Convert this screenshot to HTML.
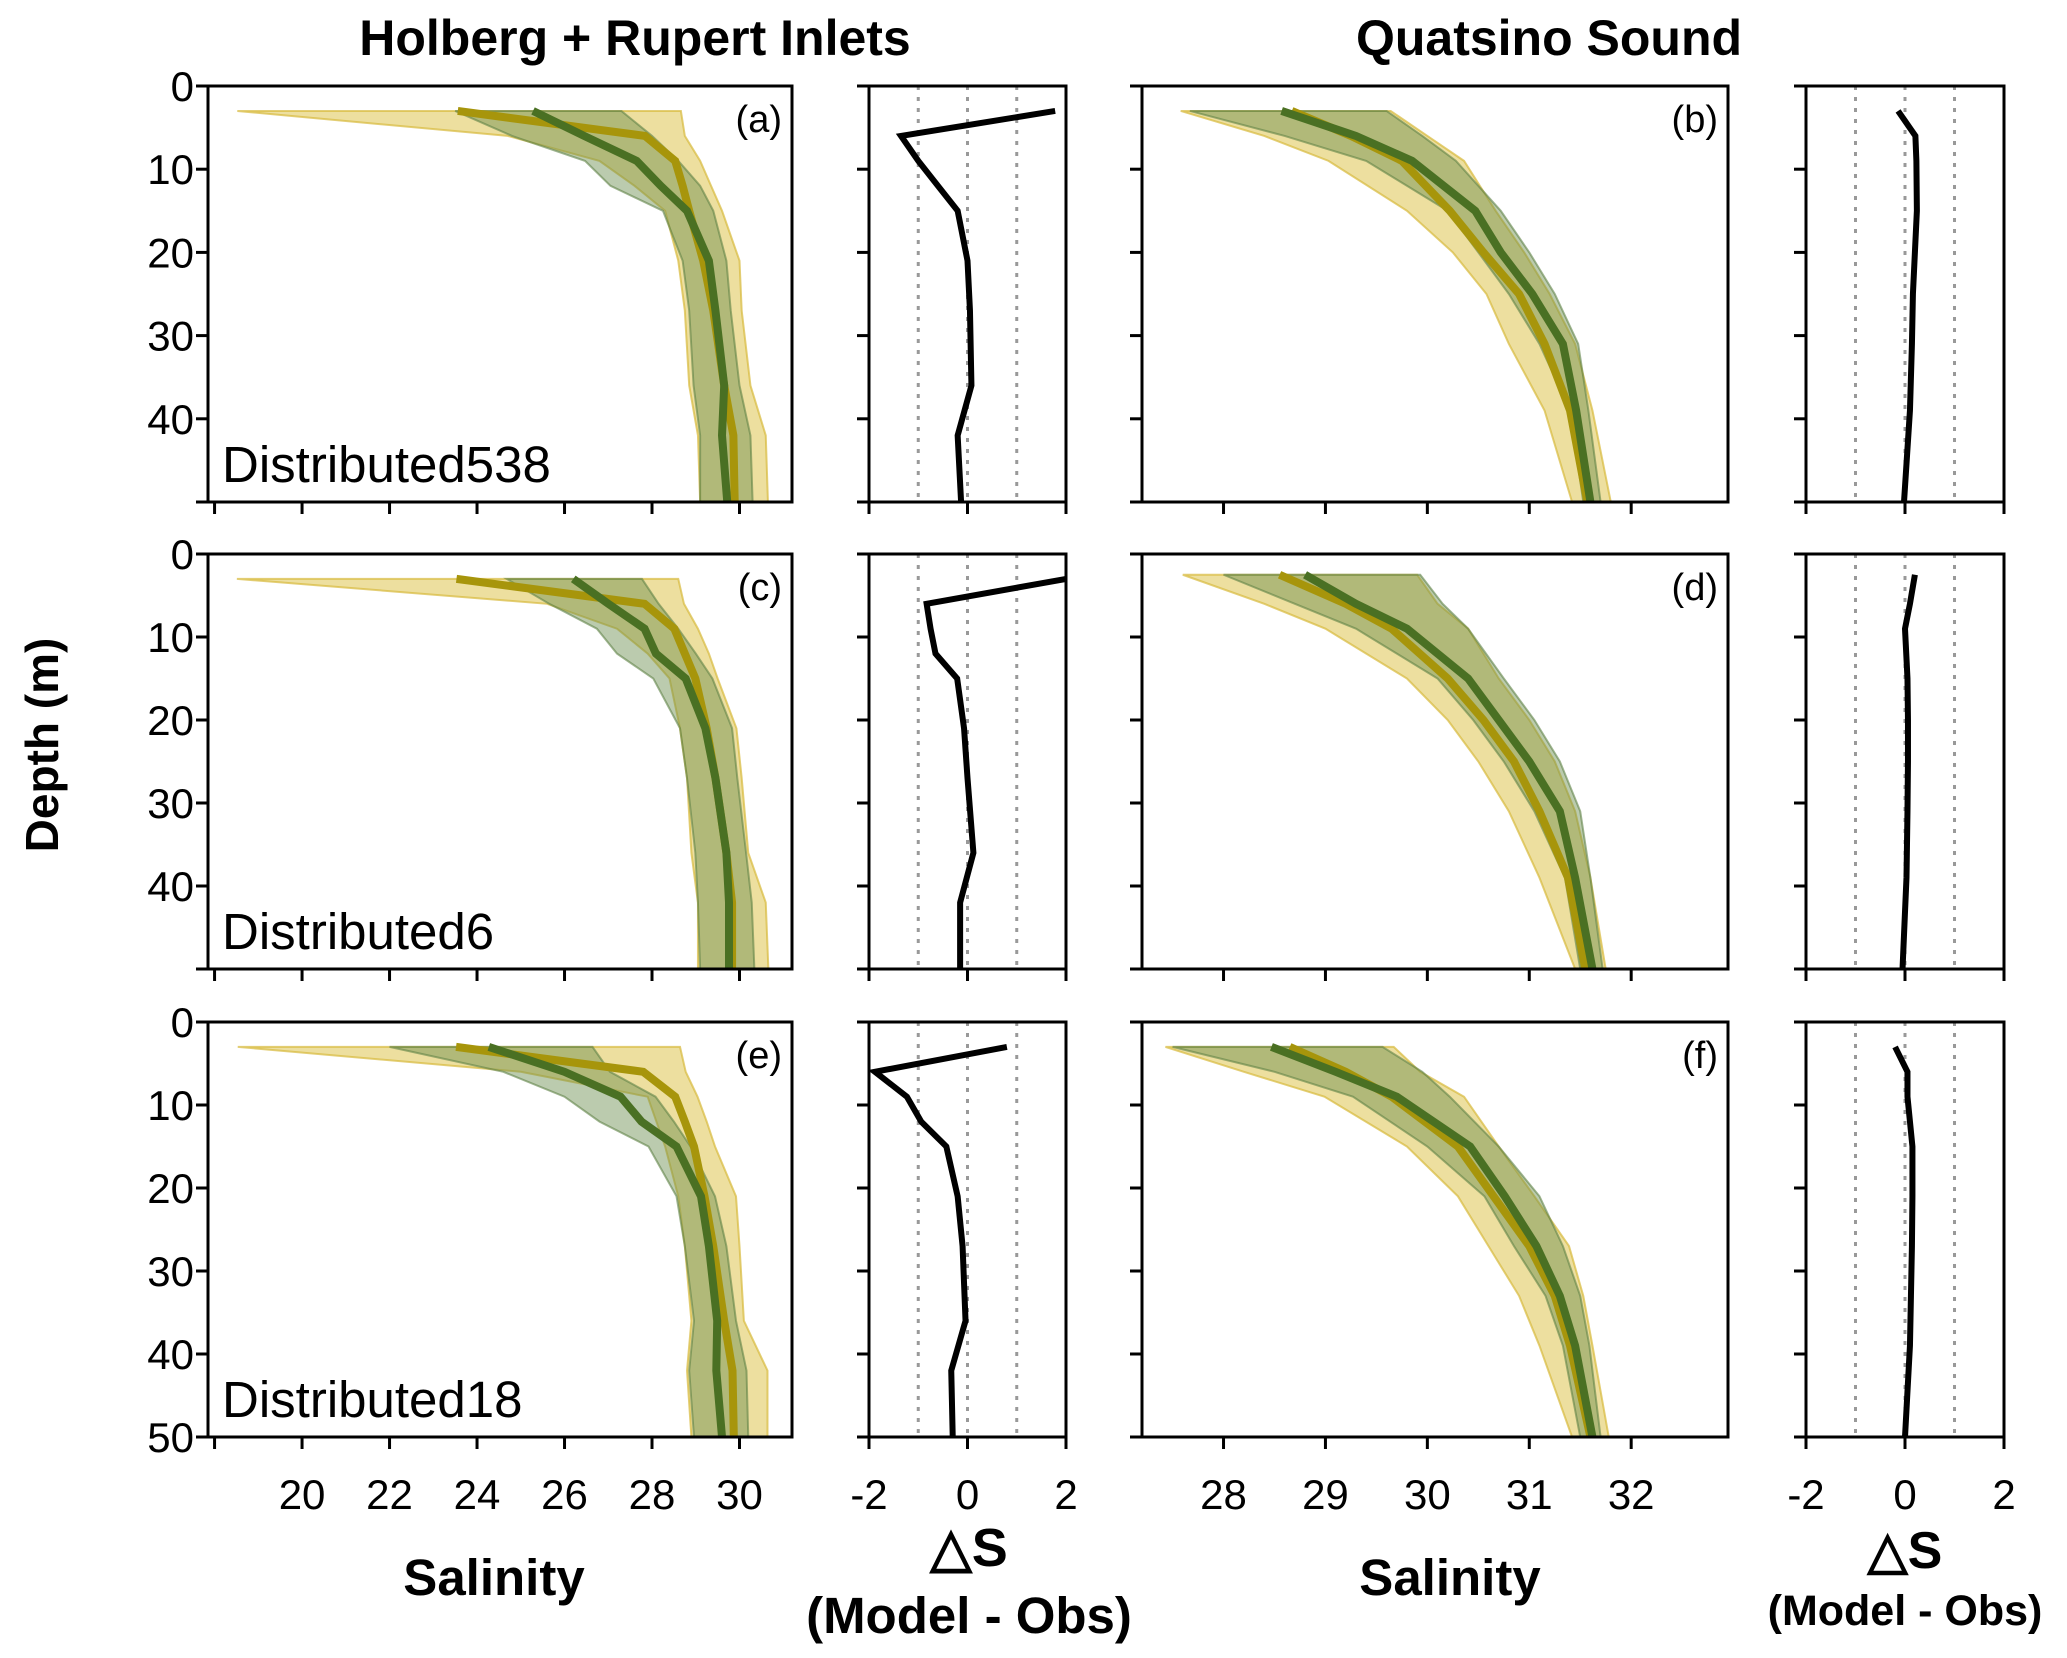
<!DOCTYPE html>
<html><head><meta charset="utf-8">
<style>
html,body{margin:0;padding:0;background:#fff;}
svg{display:block;}
text{font-family:"Liberation Sans Narrow","Liberation Sans",sans-serif;fill:#000;}
.b{font-family:"Liberation Sans",sans-serif;font-weight:bold;}
</style></head>
<body>
<svg id="fig" width="2067" height="1658" viewBox="0 0 2067 1658" xmlns="http://www.w3.org/2000/svg">
<text class="b" x="635" y="55" font-size="50" text-anchor="middle">Holberg + Rupert Inlets</text>
<text class="b" x="1549" y="55" font-size="50" text-anchor="middle">Quatsino Sound</text>
<text class="b" x="0" y="0" font-size="46" text-anchor="middle" transform="translate(58,745) rotate(-90)">Depth (m)</text>
<text class="b" x="494" y="1595" font-size="51" text-anchor="middle">Salinity</text>
<text class="b" x="1450" y="1595" font-size="51" text-anchor="middle">Salinity</text>
<text class="b" x="969" y="1566" font-size="54" text-anchor="middle">△S</text>
<text class="b" x="969" y="1633" font-size="51" text-anchor="middle">(Model - Obs)</text>
<text class="b" x="1905" y="1568" font-size="52" text-anchor="middle">△S</text>
<text class="b" x="1905" y="1625" font-size="43" text-anchor="middle">(Model - Obs)</text>
</svg>
<script>
// ---- data ----
const aDepth=[3,6,9,12,15,21,27,36,42,50];
const aObs=[23.56,27.84,28.53,28.7,28.85,29.17,29.4,29.65,29.86,29.89];
const aMod=[25.28,26.45,27.65,28.2,28.8,29.3,29.45,29.65,29.6,29.72];
const aObsLo=[18.52,24.7,26.8,27.6,28.3,28.6,28.75,28.85,29.05,29.1];
const aObsHi=[28.66,28.75,29.1,29.35,29.6,30.0,30.05,30.25,30.6,30.65];
const aModLo=[23.5,24.8,26.47,27.05,28.25,28.7,28.85,28.95,29.1,29.1];
const aModHi=[27.3,28.0,28.6,29.1,29.4,29.7,29.8,30.0,30.25,30.3];
const aDiff=[1.78,-1.35,-1.0,-0.6,-0.2,0.0,0.05,0.08,-0.2,-0.13];

const cDepth=[3,6,9,12,15,21,27,36,42,50];
const cObs=[23.53,27.83,28.51,28.75,28.99,29.25,29.45,29.7,29.83,29.83];
const cMod=[26.2,27.0,27.83,28.09,28.77,29.22,29.45,29.7,29.76,29.76];
const cObsLo=[18.51,25.6,27.2,27.9,28.4,28.64,28.8,28.9,29.05,29.05];
const cObsHi=[28.6,28.73,29.05,29.3,29.5,29.93,30.05,30.2,30.6,30.66];
const cModLo=[24.68,25.65,26.74,27.2,28.03,28.64,28.8,28.99,29.05,29.1];
const cModHi=[27.77,28.15,28.6,29.0,29.38,29.83,29.95,30.15,30.28,30.34];
const cDiff=[2.0,-0.83,-0.75,-0.65,-0.21,-0.07,0.0,0.12,-0.15,-0.15];

const eDepth=[3,6,9,12,15,21,27,36,42,50];
const eObs=[23.52,27.8,28.53,28.75,28.96,29.2,29.4,29.65,29.84,29.87];
const eMod=[24.27,26.0,27.28,27.76,28.56,29.12,29.3,29.49,29.47,29.6];
const eObsLo=[18.53,25.0,27.9,28.1,28.3,28.6,28.75,28.9,28.8,28.9];
const eObsHi=[28.64,28.77,29.04,29.25,29.44,29.92,30.0,30.1,30.64,30.64];
const eModLo=[22.0,24.6,26.0,26.8,27.92,28.56,28.75,28.96,28.85,28.96];
const eModHi=[26.64,27.04,28.08,28.5,28.88,29.44,29.7,29.92,30.16,30.2];
const eDiff=[0.8,-1.88,-1.23,-0.94,-0.43,-0.2,-0.1,-0.04,-0.33,-0.3];

const bDepth=[3,6,9,15,20,25,31,39,50];
const bObs=[28.67,29.25,29.75,30.22,30.55,30.9,31.15,31.4,31.57];
const bMod=[28.57,29.3,29.85,30.47,30.72,31.03,31.33,31.46,31.6];
const bObsLo=[27.58,28.4,29.03,29.8,30.25,30.58,30.8,31.15,31.42];
const bObsHi=[29.64,30.0,30.36,30.67,30.95,31.2,31.45,31.62,31.8];
const bModLo=[27.67,28.6,29.4,30.2,30.5,30.8,31.1,31.4,31.53];
const bModHi=[29.6,29.95,30.28,30.72,31.0,31.25,31.48,31.58,31.7];
const bDiff=[-0.14,0.21,0.23,0.24,0.2,0.16,0.14,0.1,-0.02];

const dDepth=[2.5,6,9,15,20,25,31,39,50];
const dObs=[28.55,29.2,29.65,30.2,30.55,30.85,31.1,31.38,31.55];
const dMod=[28.8,29.3,29.8,30.4,30.7,31.0,31.3,31.45,31.62];
const dObsLo=[27.6,28.4,29.0,29.8,30.2,30.5,30.8,31.1,31.45];
const dObsHi=[29.9,30.1,30.4,30.7,31.0,31.25,31.45,31.6,31.75];
const dModLo=[28.0,28.7,29.3,30.1,30.45,30.75,31.05,31.35,31.5];
const dModHi=[29.93,30.15,30.4,30.75,31.05,31.3,31.5,31.6,31.72];
const dDiff=[0.2,0.1,0.0,0.05,0.06,0.06,0.05,0.03,-0.05];

const fDepth=[3,6,9,15,21,27,33,39,50];
const fObs=[28.65,29.2,29.65,30.3,30.65,31.0,31.25,31.4,31.6];
const fMod=[28.47,29.1,29.7,30.42,30.76,31.07,31.3,31.45,31.62];
const fObsLo=[27.43,28.2,28.99,29.8,30.3,30.6,30.9,31.1,31.42];
const fObsHi=[29.67,29.93,30.36,30.7,31.05,31.39,31.53,31.62,31.78];
const fModLo=[27.5,28.5,29.27,30.0,30.56,30.85,31.16,31.33,31.5];
const fModHi=[29.56,29.95,30.22,30.7,31.1,31.33,31.5,31.59,31.7];
const fDiff=[-0.2,0.05,0.05,0.15,0.15,0.14,0.12,0.1,0.0];

const leftTicks=[18,20,22,24,26,28,30];
const leftTickLabels=["","20","22","24","26","28","30"];
const rightTicks=[28,29,30,31,32];
const diffTicks=[-2,0,2];
const depthTicks=[0,10,20,30,40,50];

// ---- layout ----
const NS="http://www.w3.org/2000/svg";
const svg=document.getElementById('fig');
const rows=[[86,502],[554,969],[1022,1437]];
const colL=[208,792], colLD=[869,1066], colR=[1142,1728], colRD=[1806,2004];
const domL=[17.85,31.2], domR=[27.2,32.95], domD=[-2,2];

function mk(tag,attrs,parent){const e=document.createElementNS(NS,tag);for(const k in attrs)e.setAttribute(k,attrs[k]);(parent||svg).appendChild(e);return e;}
function xs(col,dom){return v=>col[0]+(v-dom[0])/(dom[1]-dom[0])*(col[1]-col[0]);}
function ys(row){return d=>row[0]+d/50*(row[1]-row[0]);}

function profilePanel(id,row,col,dom,depth,obs,mod,oLo,oHi,mLo,mHi,xt,xtl,showX,showY,showY50,label,corner){
  const g=mk('g',{});
  
  
  const X=xs(col,dom),Y=ys(row);
  const cid='clip-'+id;
  const cp=mk('clipPath',{id:cid},g);mk('rect',{x:col[0],y:row[0],width:col[1]-col[0],height:row[1]-row[0]},cp);
  const band=(lo,hi,fill,stroke,name)=>{
    let p='M'+lo.map((v,i)=>X(v)+','+Y(depth[i])).join(' L');
    for(let i=hi.length-1;i>=0;i--)p+=' L'+X(hi[i])+','+Y(depth[i]);
    const e=mk('path',{d:p+'Z',fill:fill,stroke:stroke,'stroke-width':2,'clip-path':'url(#'+cid+')'},g);
    
    
  };
  band(oLo,oHi,'rgba(222,196,80,0.55)','rgba(215,185,60,0.7)','obs-range-band');
  band(mLo,mHi,'rgba(105,140,75,0.45)','rgba(95,130,70,0.6)','model-range-band');
  const line=(vals,color,name)=>{
    const e=mk('polyline',{points:vals.map((v,i)=>X(v)+','+Y(depth[i])).join(' '),fill:'none',stroke:color,'stroke-width':8,'clip-path':'url(#'+cid+')'},g);
    
    
  };
  line(obs,'#a7950b','obs-mean-line');
  line(mod,'#4a7023','model-mean-line');
  axes(g,row,col,X,Y,xt,xtl,showX,showY,showY50);
  const t1=mk('text',{x:col[1]-10,y:row[0]+46,'font-size':38,'text-anchor':'end'},g);t1.textContent=corner;
  
  
  if(label){const t=mk('text',{x:col[0]+14,y:row[1]-20,'font-size':51},g);t.textContent=label;
    
    }
}
function axes(g,row,col,X,Y,xt,xtl,showX,showY,showY50){
  mk('rect',{x:col[0],y:row[0],width:col[1]-col[0],height:row[1]-row[0],fill:'none',stroke:'#000','stroke-width':3},g);
  depthTicks.forEach(d=>{
    mk('line',{x1:col[0]-12,x2:col[0],y1:Y(d),y2:Y(d),stroke:'#000','stroke-width':3},g);
    if(showY&&(d<50||showY50)){const t=mk('text',{x:col[0]-14,y:Y(d)+15,'font-size':42,'text-anchor':'end'},g);t.textContent=String(d);
      
      }
  });
  xt.forEach((v,i)=>{
    mk('line',{x1:X(v),x2:X(v),y1:row[1],y2:row[1]+12,stroke:'#000','stroke-width':3},g);
    if(showX&&xtl[i]!==''){const t=mk('text',{x:X(v),y:row[1]+72,'font-size':42,'text-anchor':'middle'},g);t.textContent=xtl[i];
      
      }
  });
}
function diffPanel(id,row,col,depth,diff,showX){
  const g=mk('g',{});
  
  
  const X=xs(col,domD),Y=ys(row);
  const cid='clipd-'+id;
  const cp=mk('clipPath',{id:cid},g);mk('rect',{x:col[0],y:row[0],width:col[1]-col[0],height:row[1]-row[0]},cp);
  [-1,0,1].forEach(v=>{const l=mk('line',{x1:X(v),x2:X(v),y1:row[0],y2:row[1],stroke:'#999','stroke-width':3,'stroke-dasharray':'4 7'},g);
    
    });
  const e=mk('polyline',{points:diff.map((v,i)=>X(v)+','+Y(depth[i])).join(' '),fill:'none',stroke:'#000','stroke-width':6,'clip-path':'url(#'+cid+')'},g);
  
  
  axes(g,row,col,X,Y,diffTicks,diffTicks.map(String),showX,false,false);
}
profilePanel('a',rows[0],colL,domL,aDepth,aObs,aMod,aObsLo,aObsHi,aModLo,aModHi,leftTicks,leftTickLabels,false,true,false,'Distributed538','(a)');
profilePanel('c',rows[1],colL,domL,cDepth,cObs,cMod,cObsLo,cObsHi,cModLo,cModHi,leftTicks,leftTickLabels,false,true,false,'Distributed6','(c)');
profilePanel('e',rows[2],colL,domL,eDepth,eObs,eMod,eObsLo,eObsHi,eModLo,eModHi,leftTicks,leftTickLabels,true,true,true,'Distributed18','(e)');
profilePanel('b',rows[0],colR,domR,bDepth,bObs,bMod,bObsLo,bObsHi,bModLo,bModHi,rightTicks,rightTicks.map(String),false,false,false,'','(b)');
profilePanel('d',rows[1],colR,domR,dDepth,dObs,dMod,dObsLo,dObsHi,dModLo,dModHi,rightTicks,rightTicks.map(String),false,false,false,'','(d)');
profilePanel('f',rows[2],colR,domR,fDepth,fObs,fMod,fObsLo,fObsHi,fModLo,fModHi,rightTicks,rightTicks.map(String),true,false,false,'','(f)');
diffPanel('a',rows[0],colLD,aDepth,aDiff,false);
diffPanel('c',rows[1],colLD,cDepth,cDiff,false);
diffPanel('e',rows[2],colLD,eDepth,eDiff,true);
diffPanel('b',rows[0],colRD,bDepth,bDiff,false);
diffPanel('d',rows[1],colRD,dDepth,dDiff,false);
diffPanel('f',rows[2],colRD,fDepth,fDiff,true);
</script>
</body></html>
